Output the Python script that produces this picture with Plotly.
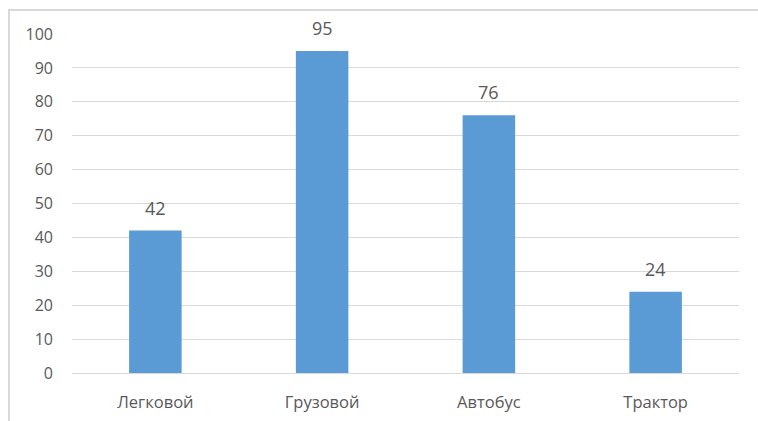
import plotly.graph_objects as go

# Vehicle counts by type
categories = ["Легковой", "Грузовой", "Автобус", "Трактор"]
values = [42, 95, 76, 24]
y_ticks = [0, 10, 20, 30, 40, 50, 60, 70, 80, 90, 100]

W, H = 758, 421
L, R, T, B = 72, 19, 34, 48
plot_w = W - L - R
plot_h = H - T - B

text_color = "#595959"
grid_color = "#d9d9d9"
font_family = "Open Sans, Liberation Sans, sans-serif"

fig = go.Figure(
    go.Bar(
        x=categories,
        y=values,
        marker=dict(color="#5B9BD5", line=dict(width=0)),
        width=0.315,
        hoverinfo="x+y",
    )
)

# Value labels above each bar
for c, v in zip(categories, values):
    fig.add_annotation(
        x=c, y=v, text=str(v), showarrow=False,
        yanchor="bottom", yshift=9,
        font=dict(family=font_family, size=18, color=text_color),
    )

# Light chart-area border
fig.add_shape(
    type="rect", xref="paper", yref="paper",
    x0=(9 - L) / plot_w, x1=(W + 20 - L) / plot_w,
    y0=-(B + 20) / plot_h, y1=1 + (T - 10) / plot_h,
    line=dict(color=grid_color, width=2), fillcolor="rgba(0,0,0,0)",
    layer="below",
)

fig.update_layout(
    width=W, height=H,
    margin=dict(l=L, r=R, t=T, b=B, pad=0, autoexpand=False),
    paper_bgcolor="white", plot_bgcolor="white",
    showlegend=False,
    font=dict(family=font_family, color=text_color, size=16),
    xaxis=dict(
        showgrid=False, showline=False, zeroline=False, ticks="",
        tickfont=dict(size=16.5, color=text_color),
        ticklabelstandoff=17, automargin=False,
    ),
    yaxis=dict(
        range=[0, 100], tickvals=y_ticks,
        showgrid=True, gridcolor=grid_color, gridwidth=1,
        zeroline=True, zerolinecolor=grid_color, zerolinewidth=1,
        showline=False, ticks="",
        tickfont=dict(size=16, color=text_color),
        ticklabelstandoff=18, automargin=False,
    ),
)

fig.write_html("out.html")
